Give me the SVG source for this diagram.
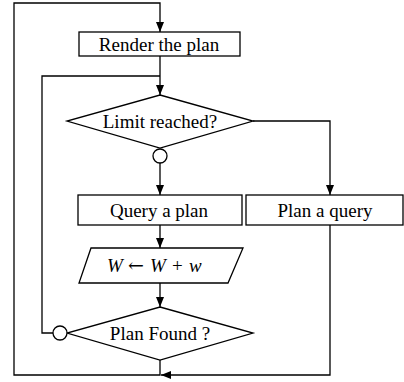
<svg xmlns="http://www.w3.org/2000/svg" width="404" height="382" viewBox="0 0 404 382">
<defs>
<marker id="arr" viewBox="0 0 10 8" refX="10" refY="4" markerWidth="10" markerHeight="8" markerUnits="userSpaceOnUse" orient="auto">
<path d="M0,0 L10,4 L0,8 z" fill="#000"/>
</marker>
<style>
.s{fill:#fff;stroke:#000;stroke-width:1.3}
.c{fill:none;stroke:#000;stroke-width:1.3}
.t{font-family:"Liberation Serif","Times New Roman",serif;font-size:19px;text-anchor:middle;fill:#000}
.m{font-family:"Liberation Serif","Times New Roman",serif;font-size:19px;fill:#000}
.i{font-style:italic}
.a{font-family:"DejaVu Serif",serif;font-size:19px}
</style>
</defs>
<rect width="404" height="382" fill="#fff"/>
<g id="connectors">
<path class="c" d="M160,360 V375 H14 V3 H160 V32" marker-end="url(#arr)"/>
<path class="c" d="M160,56 V95" marker-end="url(#arr)"/>
<path class="c" d="M53,333 H42 V76 H160"/>
<path class="c" d="M253,121 H330 V195" marker-end="url(#arr)"/>
<path class="c" d="M160,163 V195" marker-end="url(#arr)"/>
<path class="c" d="M160,225 V248" marker-end="url(#arr)"/>
<path class="c" d="M160,283 V307" marker-end="url(#arr)"/>
<path class="c" d="M330,225 V375 H161" marker-end="url(#arr)"/>
</g>
<g id="render">
<rect class="s" x="79" y="32" width="161" height="24"/>
<text class="t" x="159" y="50.5">Render the plan</text>
</g>
<g id="limit">
<path class="s" d="M160,95 L253,121 L160,148 L67,121 z"/>
<text class="t" x="160" y="128">Limit reached?</text>
</g>
<g id="limit-no">
<circle class="s" cx="160" cy="156" r="7"/>
</g>
<g id="query">
<rect class="s" x="78" y="195" width="164" height="30"/>
<text class="t" x="159" y="216.5">Query a plan</text>
</g>
<g id="planq">
<rect class="s" x="246" y="195" width="157" height="30"/>
<text class="t" x="325" y="216.5">Plan a query</text>
</g>
<g id="update">
<path class="s" d="M91,248 L243,248 L228,283 L79,283 z"/>
<text class="m" y="272"><tspan class="i" x="107">W</tspan><tspan class="a" x="128">←</tspan><tspan class="i" x="150">W</tspan><tspan x="172">+</tspan><tspan class="i" x="189">w</tspan></text>
</g>
<g id="found">
<path class="s" d="M160,307 L253,333 L160,360 L67,333 z"/>
<text class="t" x="160" y="340">Plan Found ?</text>
</g>
<g id="found-no">
<circle class="s" cx="60" cy="333" r="7"/>
</g>
</svg>
